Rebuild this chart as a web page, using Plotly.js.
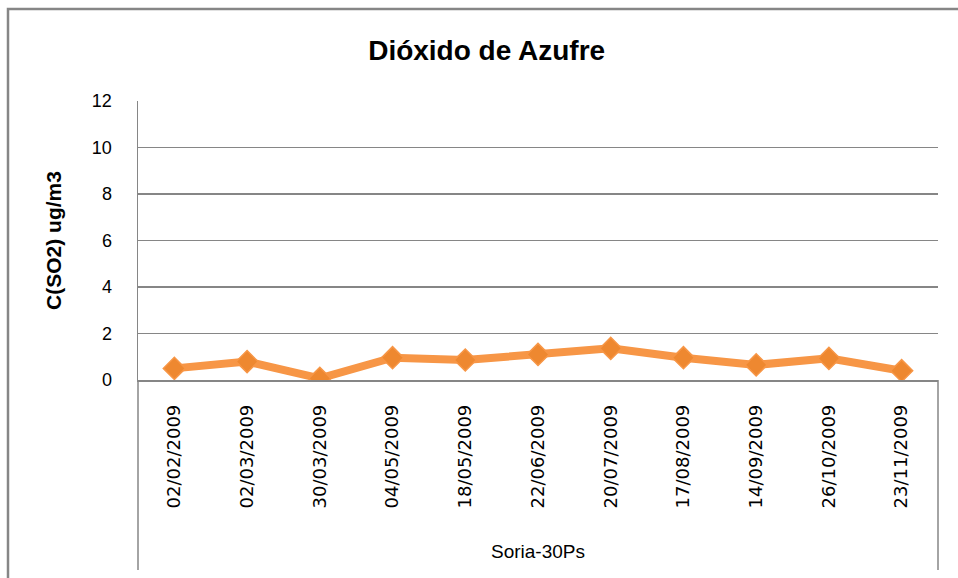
<!DOCTYPE html>
<html>
<head>
<meta charset="utf-8">
<script src="https://cdn.plot.ly/plotly-3.0.1.min.js"></script>
<style>html,body{margin:0;padding:0;background:#fff;}#chart{width:958px;height:578px;}</style>
</head>
<body>
<div id="chart"></div>
<script>
var dates = ["02/02/2009","02/03/2009","30/03/2009","04/05/2009","18/05/2009","22/06/2009","20/07/2009","17/08/2009","14/09/2009","26/10/2009","23/11/2009"];
var so2 = [0.50, 0.79, 0.07, 0.96, 0.86, 1.10, 1.36, 0.96, 0.65, 0.93, 0.40];
var yTicks = [0, 2, 4, 6, 8, 10, 12];
var groupLabel = "Soria-30Ps";
var chartTitle = "Dióxido de Azufre";
var yTitle = "C(SO2) ug/m3";

var gray = "#868686";
var trace = {
  x: dates, y: so2, type: "scatter", mode: "lines+markers",
  line: {color: "#F79646", width: 8},
  marker: {symbol: "diamond", size: 17, color: "#EE8830", line: {color: "#F79646", width: 1.5}},
  hoverinfo: "x+y"
};
var layout = {
  width: 958, height: 578,
  margin: {l: 138, r: 20, t: 101, b: 198},
  paper_bgcolor: "#fff", plot_bgcolor: "#fff",
  showlegend: false,
  title: {text: "<b>" + chartTitle + "</b>", font: {family: "Liberation Sans, Arial, sans-serif", size: 28, color: "#000"}, x: 0.508, xanchor: "center", y: 0.913, yanchor: "middle"},
  xaxis: {
    type: "category", range: [-0.5, dates.length - 0.5], tickangle: -90, automargin: false,
    showgrid: false, showline: true, linecolor: gray, linewidth: 1.5,
    ticks: "", ticklabelstandoff: 16,
    tickfont: {family: "DejaVu Sans, Verdana, sans-serif", size: 18, color: "#000"},
    zeroline: false
  },
  yaxis: {
    range: [0, 12], tickvals: yTicks, automargin: false,
    showgrid: true, gridcolor: gray, gridwidth: 1.5,
    showline: true, linecolor: gray, linewidth: 1.5,
    ticks: "", ticklabelstandoff: 21, zeroline: false,
    tickfont: {family: "Liberation Sans, Arial, sans-serif", size: 18, color: "#000"},
    title: {text: "<b>" + yTitle + "</b>", font: {family: "Liberation Sans, Arial, sans-serif", size: 21, color: "#000"}, standoff: 24}
  },
  shapes: [
    {type: "rect", xref: "paper", yref: "paper", x0: -0.1625, x1: 1.2, y0: -0.9, y1: 1.3297, line: {color: gray, width: 2.5}, fillcolor: "rgba(0,0,0,0)", layer: "below"},
    {type: "line", xref: "paper", yref: "paper", x0: 0, x1: 0, y0: -0.681, y1: 0, line: {color: gray, width: 1.5}},
    {type: "line", xref: "paper", yref: "paper", x0: 1, x1: 1, y0: -0.681, y1: 0, line: {color: gray, width: 1.5}}
  ],
  annotations: [
    {text: groupLabel, xref: "paper", yref: "paper", x: 0.5, y: -0.616, showarrow: false, xanchor: "center", yanchor: "middle", font: {family: "Liberation Sans, Arial, sans-serif", size: 19, color: "#000"}}
  ]
};
Plotly.newPlot("chart", [trace], layout, {displayModeBar: false, staticPlot: true});
</script>
</body>
</html>
